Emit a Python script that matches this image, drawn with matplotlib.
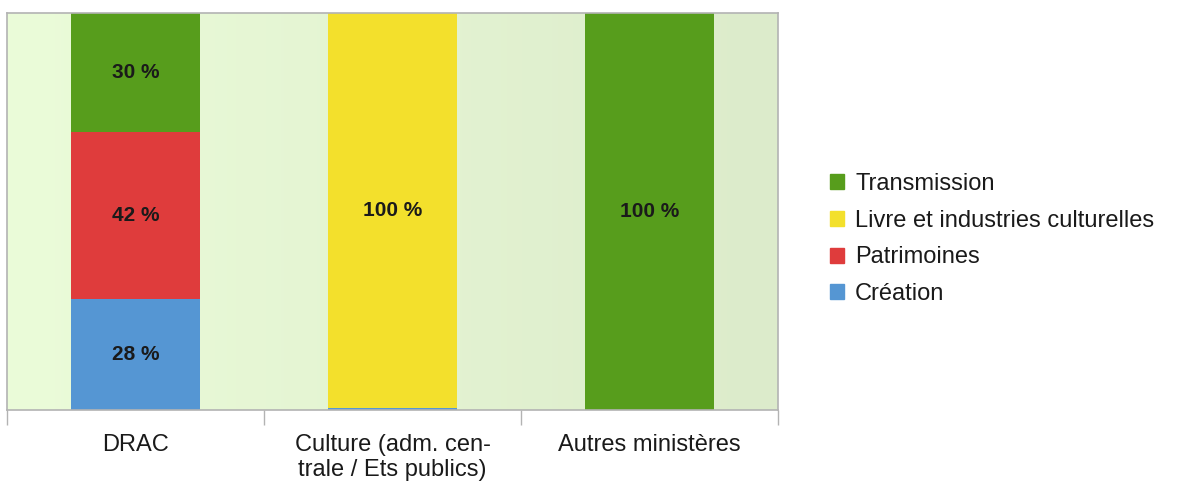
import numpy as np
import matplotlib
matplotlib.use('Agg')
from matplotlib import pyplot as plt
from matplotlib.colors import LinearSegmentedColormap
from matplotlib.patches import Patch

plt.rcParams['font.family'] = ['Liberation Sans', 'DejaVu Sans']

categories = ['DRAC', 'Culture (adm. cen-\ntrale / Ets publics)', 'Autres ministères']
series = ['Création', 'Patrimoines', 'Livre et industries culturelles', 'Transmission']
creation = [28, 0.4, 0]
patrimoines = [42, 0, 0]
livre = [0, 99.6, 0]
transmission = [30, 0, 100]
labels = [['28 %', '', ''], ['42 %', '', ''], ['', '100 %', ''], ['30 %', '', '100 %']]
colors = ['#5596d3', '#df3c3c', '#f3e02c', '#579d1c']

fig = plt.figure(figsize=(11.9, 4.86), dpi=100)
ax = fig.add_axes([7 / 1190, 76 / 486, 771 / 1190, 397 / 486])

# fond en dégradé vert
cmap = LinearSegmentedColormap.from_list('bg', ['#ebfcd9', '#dcebcb'])
grad = np.linspace(0, 1, 256).reshape(1, -1)
ax.imshow(grad, cmap=cmap, aspect='auto', extent=[-0.5, 2.5, 0, 100], zorder=0)

x = np.arange(len(categories))
bottom = np.zeros(len(categories))
data = [creation, patrimoines, livre, transmission]
for i, vals in enumerate(data):
    vals = np.array(vals, dtype=float)
    ax.bar(x, vals, 0.5, bottom=bottom, color=colors[i], zorder=2)
    for j in range(len(categories)):
        if labels[i][j]:
            ax.text(x[j], bottom[j] + vals[j] / 2, labels[i][j], ha='center', va='center',
                    fontsize=15, fontweight='bold', color='#1a1a1a', zorder=3)
    bottom += vals

ax.set_xlim(-0.5, 2.5)
ax.set_ylim(0, 100)
ax.set_yticks([])
ax.set_xticks([-0.5, 0.5, 1.5, 2.5])
ax.set_xticklabels([])
ax.set_xticks(x, minor=True)
ax.set_xticklabels(categories, minor=True, fontsize=17, color='#1a1a1a', linespacing=1.2)
ax.tick_params(axis='x', which='major', length=11, color='#b3b3b3', width=1)
ax.tick_params(axis='x', which='minor', length=0, pad=17)
for s in ax.spines.values():
    s.set_color('#b3b3b3')
    s.set_linewidth(1.2)

handles = [Patch(color=colors[i]) for i in [3, 2, 1, 0]]
names = [series[i] for i in [3, 2, 1, 0]]
fig.legend(handles, names, loc='center left', bbox_to_anchor=(809 / 1190, 1 - 239 / 486),
           frameon=False, fontsize=17, handlelength=0.6, handleheight=0.6,
           handletextpad=0.45, labelspacing=0.63, labelcolor='#1a1a1a')

fig.savefig('out.png', dpi=100)
